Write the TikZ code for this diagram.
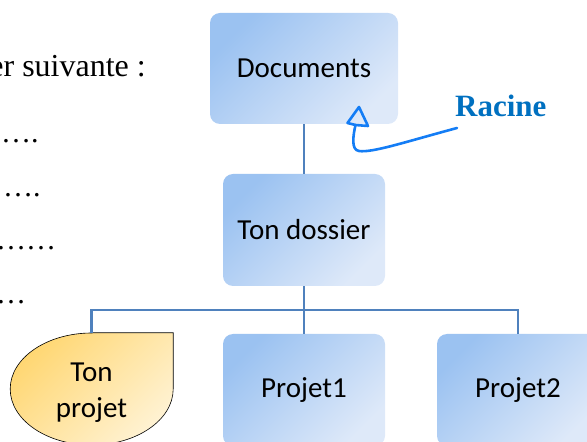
\documentclass[tikz,border=0pt]{standalone}
\usepackage{fontspec}
\setmainfont{Liberation Serif}
\newfontfamily\boxfont{Carlito}
\definecolor{bluedark}{RGB}{155,194,241}
\definecolor{bluelight}{RGB}{222,233,249}
\definecolor{golddark}{RGB}{255,215,115}
\definecolor{goldlight}{RGB}{255,242,210}
\definecolor{linkcol}{RGB}{79,129,189}
\definecolor{racinecol}{RGB}{0,112,192}
\definecolor{arrowcol}{RGB}{20,125,245}
\tikzset{
  bluebox/.style={rectangle, rounded corners=10pt, draw=none,
    top color=bluedark, bottom color=bluelight, shading angle=45,
    font=\boxfont\fontsize{29}{34}\selectfont, text=black, inner sep=0pt},
  link/.style={draw=linkcol, line width=2.2pt},
  bodytext/.style={font=\fontsize{32}{36}\selectfont, inner sep=0pt, text=black},
  dotstext/.style={font=\fontsize{30}{36}\selectfont, inner sep=0pt, text=black, anchor=base west},
  handarrow/.style={draw=arrowcol, line width=2.6pt, line cap=round, line join=round},
}
\begin{document}
\begin{tikzpicture}[x=1pt,y=1pt]
\useasboundingbox (0,0) rectangle (587,442);
% left text
\node[bodytext, anchor=base east] (intro) at (146,365) {er suivante :};
\node[dotstext] (d1) at (1,299) {\char"2026.};
\node[dotstext] (d2) at (3,245) {\char"2026.};
\node[dotstext] (d3) at (-4,192) {\char"2026\char"2026};
\node[dotstext] (d4) at (-4,138) {\char"2026};
% boxes
\node[bluebox, minimum width=188pt, minimum height=111pt] (docs) at (304,373.5) {Documents};
\node[bluebox, minimum width=162pt, minimum height=112pt] (dossier) at (304,212) {Ton dossier};
\node[bluebox, minimum width=162pt, minimum height=112pt] (p1) at (304,52) {Projet1};
\node[bluebox, minimum width=162pt, minimum height=112pt] (p2) at (518,52) {Projet2};
% teardrop
\node[rectangle, minimum width=163pt, minimum height=112pt, inner sep=0pt] (tp) at (91.5,53) {};
\draw[line width=0.6pt, top color=golddark, bottom color=goldlight, shading angle=45]
  (tp.north) -- (tp.north east) -- (tp.east)
  arc[start angle=0, end angle=-90, x radius=81.5pt, y radius=56pt]
  arc[start angle=-90, end angle=-270, x radius=81.5pt, y radius=56pt] -- cycle;
\node[font=\boxfont\fontsize{29}{36}\selectfont, align=center, inner sep=0pt] (tptext) at (91.5,49) {Ton\\projet};
% connectors
\coordinate (bus) at (304,132);
\draw[link] (docs.south) -- (dossier.north);
\draw[link] (dossier.south) -- (bus);
\draw[link] (tp.north) |- (bus) -| (p2.north);
\draw[link] (bus) -- (p1.north);
% Racine
\node[font=\bfseries\fontsize{31}{36}\selectfont, text=racinecol, anchor=base west, inner sep=0pt] (racine) at (455,325) {Racine};
\coordinate (tail) at (457,314);
\coordinate (notch) at (355.5,317);
\coordinate (tip) at (359,335);
\coordinate (lcorner) at (347.5,319);
\coordinate (rcorner) at (368,316);
\draw[handarrow]
  (tail) .. controls (405,300) and (372,289) .. (359,291)
  .. controls (351,292) and (353,306) .. (notch);
\draw[handarrow] (tip) -- (lcorner) -- (notch) -- (rcorner) -- cycle;
\end{tikzpicture}
\end{document}
